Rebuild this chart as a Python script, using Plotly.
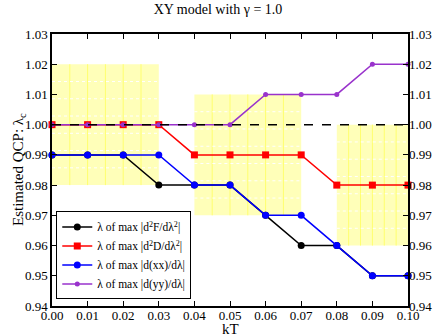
import numpy as np
import plotly.graph_objects as go

kT = [0.00, 0.01, 0.02, 0.03, 0.04, 0.05, 0.06, 0.07, 0.08, 0.09, 0.10]
lam_d2F = [0.99, 0.99, 0.99, 0.98, 0.98, 0.98, 0.97, 0.96, 0.96, 0.95, 0.95]
lam_d2D = [1.00, 1.00, 1.00, 1.00, 0.99, 0.99, 0.99, 0.99, 0.98, 0.98, 0.98]
lam_xx = [0.99, 0.99, 0.99, 0.99, 0.98, 0.98, 0.97, 0.97, 0.96, 0.95, 0.95]
lam_yy = [1.00, 1.00, 1.00, 1.00, 1.00, 1.00, 1.01, 1.01, 1.01, 1.02, 1.02]

names = ["λ of max |d<sup>2</sup>F/dλ<sup>2</sup>|",
         "λ of max |d<sup>2</sup>D/dλ<sup>2</sup>|",
         "λ of max |d(xx)/dλ|",
         "λ of max |d(yy)/dλ|"]

box_x0 = [0.00, 0.04, 0.08]
box_x1 = [0.03, 0.07, 0.10]
box_y0 = [0.98, 0.97, 0.96]
box_y1 = [1.02, 1.01, 1.00]

ref_level = 1.0

x_ticks = [round(0.01 * i, 2) for i in range(11)]
y_ticks = [round(0.94 + 0.01 * i, 2) for i in range(10)]

FONT = "Liberation Serif, Times New Roman, serif"

fig = go.Figure()

shapes = []
for x0, x1, y0, y1 in zip(box_x0, box_x1, box_y0, box_y1):
    shapes.append(dict(type="rect", xref="x", yref="y", x0=x0, x1=x1, y0=y0, y1=y1,
                       fillcolor="rgb(255,255,185)", line=dict(width=0), layer="below"))
    for xv in np.linspace(x0, x1, 7)[1:-1]:
        shapes.append(dict(type="line", xref="x", yref="y", x0=xv, x1=xv, y0=y0, y1=y1,
                           line=dict(color="rgb(255,255,110)", width=1), layer="below"))
    for yv in np.linspace(y0, y1, 8)[1:-1]:
        shapes.append(dict(type="line", xref="x", yref="y", x0=x0, x1=x1, y0=yv, y1=yv,
                           line=dict(color="white", width=1, dash="dot"), layer="below"))

shapes.append(dict(type="line", xref="paper", yref="y", x0=0, x1=1, y0=ref_level, y1=ref_level,
                   line=dict(color="black", width=1.5, dash="dash"), layer="above"))

series = [
    (lam_d2F, "black", "circle", 7),
    (lam_d2D, "red", "square", 7),
    (lam_xx, "blue", "circle", 7),
    (lam_yy, "darkorchid", "circle", 5),
]
for (vals, col, sym, size), nm in zip(series, names):
    fig.add_trace(go.Scatter(x=kT, y=vals, mode="lines+markers", name=nm,
                             line=dict(color=col, width=1.5),
                             marker=dict(color=col, symbol=sym, size=size, line=dict(width=0)),
                             cliponaxis=False))

# invisible trace for right axis
fig.add_trace(go.Scatter(x=[kT[0]], y=[lam_d2D[0]], yaxis="y2", showlegend=False,
                         mode="markers", marker=dict(opacity=0), hoverinfo="skip"))

axis_common = dict(showgrid=False, zeroline=False, showline=True, linecolor="black",
                   linewidth=1.5, ticks="inside", ticklen=5, tickcolor="black",
                   automargin=False,
                   tickfont=dict(family=FONT, size=13, color="black"))

fig.update_layout(
    width=436, height=336,
    margin=dict(l=52, r=28, t=34, b=30),
    paper_bgcolor="white", plot_bgcolor="white",
    title=dict(text="XY model with γ = 1.0", x=0.5, xanchor="center",
               yref="container", y=1 - 9 / 336, yanchor="middle",
               font=dict(family=FONT, size=14, color="black")),
    xaxis=dict(range=[0, 0.1], tickvals=x_ticks, ticktext=[f"{v:.2f}" for v in x_ticks],
               mirror="ticks", ticklabelstandoff=-3, **axis_common),
    yaxis=dict(range=[0.94, 1.03], tickvals=y_ticks, ticktext=[f"{v:.2f}" for v in y_ticks],
               mirror="ticks", **axis_common),
    yaxis2=dict(range=[0.94, 1.03], tickvals=y_ticks, ticktext=[f"{v:.2f}" for v in y_ticks],
                overlaying="y", side="right", showgrid=False, zeroline=False, showline=False,
                ticks="", automargin=False, tickfont=dict(family=FONT, size=13, color="black")),
    legend=dict(x=0.012, y=0.186, xanchor="left", yanchor="middle",
                bgcolor="white", bordercolor="black", borderwidth=1,
                font=dict(family=FONT, size=11.5, color="black"),
                tracegroupgap=0, itemsizing="trace", itemwidth=30),
    annotations=[
        dict(text="kT", xref="paper", yref="paper", x=0.5, y=-(329 - 306) / 272,
             xanchor="center", yanchor="middle", showarrow=False,
             font=dict(family=FONT, size=15, color="black")),
        dict(text="Estimated QCP: λ<sub>c</sub>", xref="paper", yref="paper",
             x=-(52 - 19) / 356, y=0.5, xanchor="center", yanchor="middle",
             textangle=-90, showarrow=False,
             font=dict(family=FONT, size=15, color="black")),
    ],
    shapes=shapes,
    showlegend=True,
)

fig.write_html("out.html", config={"displayModeBar": False},
               post_script="document.body.style.margin='0';document.body.style.overflow='hidden';")
